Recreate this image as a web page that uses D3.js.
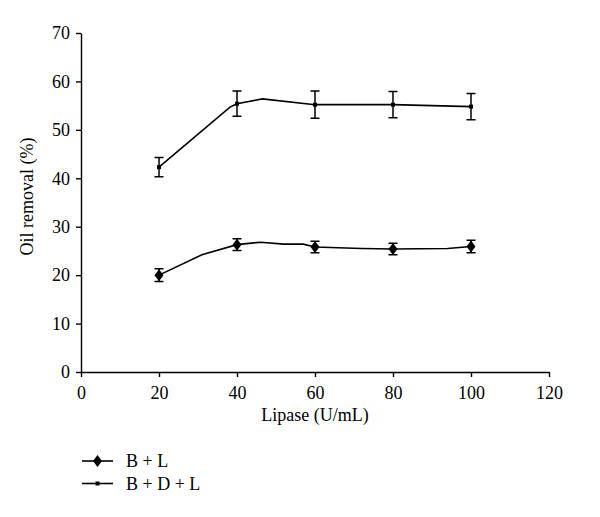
<!DOCTYPE html>
<html>
<head>
<meta charset="utf-8">
<script src="https://cdn.jsdelivr.net/npm/d3@7"></script>
<style>
	body { margin: 0; background: #fff; }
	text { font-family: "Liberation Serif", "DejaVu Serif", serif; fill: #000; }
</style>
</head>
<body>
<div id="chart"></div>
<script>
// lipase doses where the means were measured
var doses = [20, 40, 60, 80, 100];

// B + L
var blMean = [20.0, 26.3, 25.8, 25.4, 25.9];
var blErr = [1.3, 1.2, 1.2, 1.2, 1.3];
// connecting line as drawn (smoothed in the original)
var blLineX = [20, 31, 40, 46, 52, 57, 60, 72, 80, 94, 100];
var blLineY = [20.0, 24.2, 26.3, 26.8, 26.4, 26.4, 25.8, 25.5, 25.4, 25.5, 25.9];

// B + D + L
var bdlMean = [42.3, 55.4, 55.2, 55.2, 54.8];
var bdlErr = [2.0, 2.6, 2.8, 2.7, 2.7];
var bdlLineX = [20, 38.2, 40, 46.5, 60, 80, 100];
var bdlLineY = [42.3, 54.7, 55.4, 56.4, 55.2, 55.2, 54.8];

var xTicks = [0, 20, 40, 60, 80, 100, 120];
var yTicks = [0, 10, 20, 30, 40, 50, 60, 70];

var legendNames = ["B + L", "B + D + L"];

var margin = {top: 33, left: 81};
var width = 468, height = 339;

var svg = d3.select("#chart").append("svg")
	.attr("width", 600)
	.attr("height", 517)
	.append("g")
		.attr("transform", "translate(" + margin.left + "," + margin.top + ")");

var x = d3.scaleLinear().domain([0, 120]).range([0, width]);
var y = d3.scaleLinear().domain([0, 70]).range([height, 0]);

// axes
var xAxis = svg.append("g")
	.attr("transform", "translate(0," + height + ")")
	.call(d3.axisBottom(x).tickValues(xTicks).tickSize(5).tickSizeOuter(0).tickPadding(9));
var yAxis = svg.append("g")
	.call(d3.axisLeft(y).tickValues(yTicks).tickSize(5).tickSizeOuter(0).tickPadding(6));

[xAxis, yAxis].forEach(function(a) {
	a.selectAll("path, line").attr("stroke", "#000").attr("stroke-width", 1.4);
	a.selectAll("text").style("font-size", "18px").attr("fill", "#000");
});

svg.append("text")
	.attr("x", width / 2)
	.attr("y", height + 49)
	.attr("text-anchor", "middle")
	.style("font-size", "18px")
	.text("Lipase (U/mL)");

svg.append("text")
	.attr("transform", "translate(-48," + (height / 2 - 6) + ") rotate(-90)")
	.attr("text-anchor", "middle")
	.style("font-size", "18px")
	.text("Oil removal (%)");

var line = d3.line()
	.x(function(d) { return x(d[0]); })
	.y(function(d) { return y(d[1]); });

var diamond = "M0,-6L4.5,0L0,6L-4.5,0Z";

function drawSeries(lx, ly, mean, err, marker) {
	svg.append("path")
		.attr("d", line(d3.zip(lx, ly)))
		.style("fill", "none")
		.style("stroke", "#000")
		.style("stroke-width", 1.6);

	var pts = d3.zip(doses, mean, err);
	var g = svg.append("g").selectAll("g")
		.data(pts)
		.enter().append("g");

	// error bars
	g.append("path")
		.attr("d", function(d) {
			var cx = x(d[0]), t = y(d[1] + d[2]), b = y(d[1] - d[2]);
			return "M" + (cx - 4.5) + "," + t + "H" + (cx + 4.5) +
				"M" + cx + "," + t + "V" + b +
				"M" + (cx - 4.5) + "," + b + "H" + (cx + 4.5);
		})
		.style("fill", "none")
		.style("stroke", "#000")
		.style("stroke-width", 1.5);

	if (marker == "diamond") {
		g.append("path")
			.attr("d", diamond)
			.attr("transform", function(d) { return "translate(" + x(d[0]) + "," + y(d[1]) + ")"; })
			.style("fill", "#000");
	} else {
		g.append("rect")
			.attr("x", function(d) { return x(d[0]) - 2; })
			.attr("y", function(d) { return y(d[1]) - 2; })
			.attr("width", 4)
			.attr("height", 4)
			.style("fill", "#000");
	}
}

drawSeries(bdlLineX, bdlLineY, bdlMean, bdlErr, "square");
drawSeries(blLineX, blLineY, blMean, blErr, "diamond");

// legend
var legend = d3.select("svg").append("g")
	.attr("transform", "translate(82,461)");
var item = legend.selectAll("g")
	.data(legendNames)
	.enter().append("g")
		.attr("transform", function(d, i) { return "translate(0," + (i * 22.5) + ")"; });

item.append("line")
	.attr("x1", 0).attr("x2", 31)
	.attr("stroke", "#000").attr("stroke-width", 1.6);
item.filter(function(d, i) { return i == 0; }).append("path")
	.attr("d", diamond)
	.attr("transform", "translate(15.5,0)");
item.filter(function(d, i) { return i == 1; }).append("rect")
	.attr("x", 13.5).attr("y", -2).attr("width", 4).attr("height", 4);
item.append("text")
	.attr("x", 44)
	.attr("dy", ".35em")
	.style("font-size", "18px")
	.text(function(d) { return d; });
</script>
</body>
</html>
